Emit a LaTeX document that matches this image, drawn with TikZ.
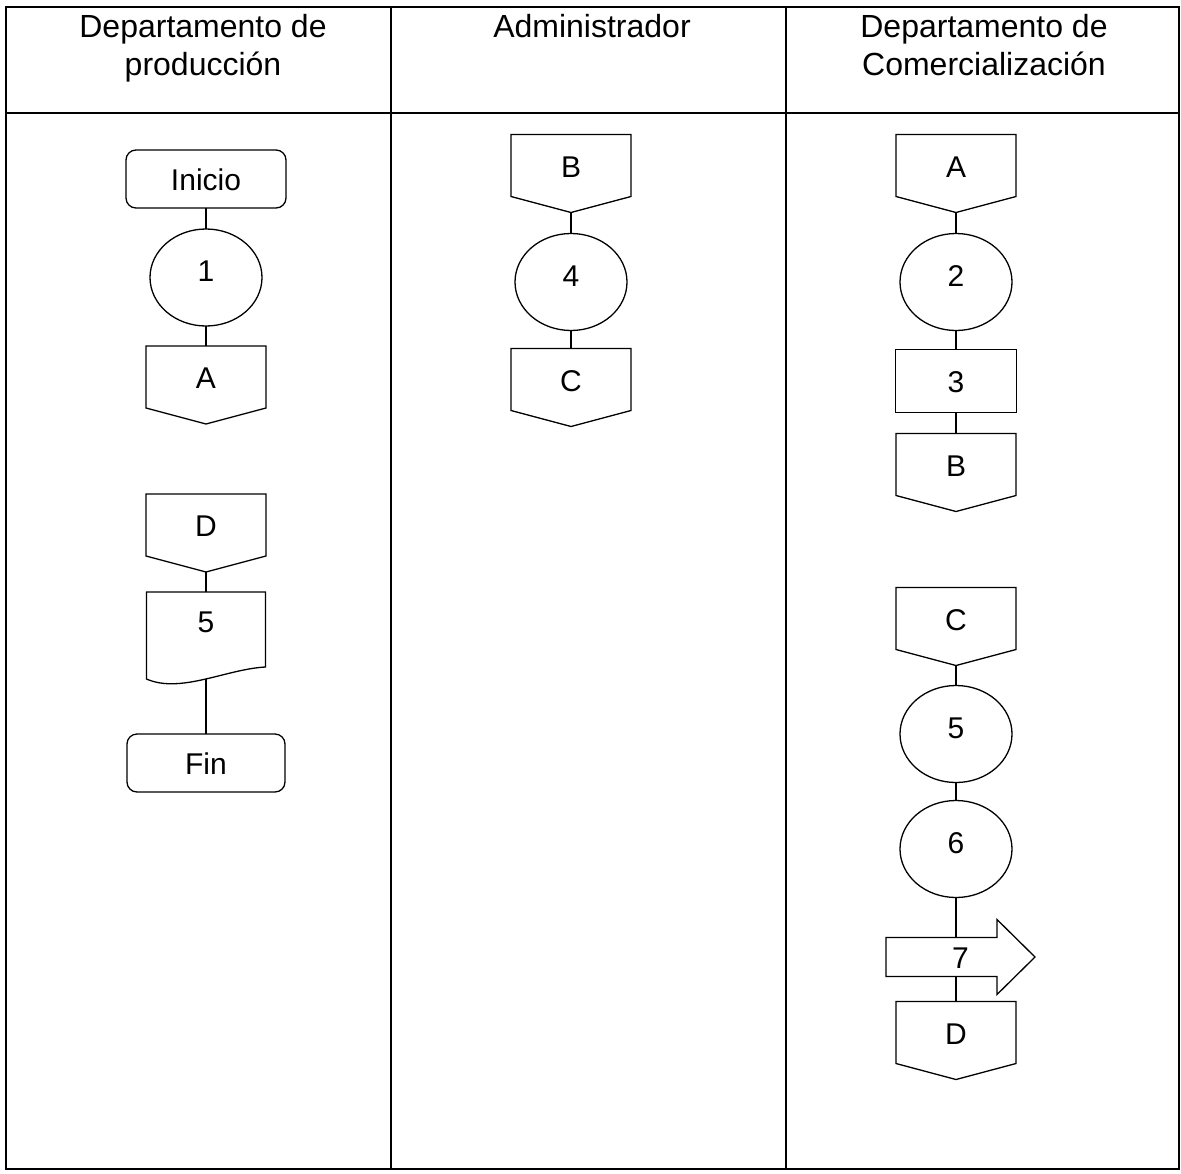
\documentclass[tikz,border=0pt]{standalone}
\usepackage{fontspec}
\setmainfont{Liberation Sans}
\usetikzlibrary{positioning,calc,shapes.geometric}

\tikzset{
  flowtext/.style={inner sep=0pt, outer sep=0pt, font=\fontsize{30}{36}\selectfont, text height=22pt, text depth=0pt},
  terminal/.style={flowtext, draw, line width=1.3pt, rounded corners=10pt, minimum width=160pt, minimum height=58pt},
  activity/.style={flowtext, draw, line width=1.3pt, ellipse, minimum width=112pt, minimum height=97pt, text depth=14pt},
  taskbox/.style={flowtext, draw, line width=1.3pt, minimum width=121pt, minimum height=63pt},
  offpage/.style={flowtext, minimum width=120pt, minimum height=78pt, text depth=15pt,
    append after command={\pgfextra{\draw[line width=1.3pt]
      (\tikzlastnode.north west) -- (\tikzlastnode.north east)
      -- ([yshift=16pt]\tikzlastnode.south east) -- (\tikzlastnode.south)
      -- ([yshift=16pt]\tikzlastnode.south west) -- cycle;}}},
  docpage/.style={flowtext, minimum width=119pt, minimum height=87pt, text depth=29pt,
    append after command={\pgfextra{\draw[line width=1.3pt]
      (\tikzlastnode.north west) -- (\tikzlastnode.north east)
      -- ([yshift=12pt]\tikzlastnode.south east)
      .. controls ($(\tikzlastnode.south east)+(-39,-10)$) and ($(\tikzlastnode.south west)+(34,15)$) .. (\tikzlastnode.south west)
      -- cycle;}}},
  flowarrow/.style={flowtext, minimum width=149pt, minimum height=75pt,
    append after command={\pgfextra{\draw[line width=1.3pt]
      ([yshift=19.5pt]\tikzlastnode.west) -- ([xshift=-38pt,yshift=19.5pt]\tikzlastnode.east)
      -- ([xshift=-38pt]\tikzlastnode.north east) -- (\tikzlastnode.east)
      -- ([xshift=-38pt]\tikzlastnode.south east) -- ([xshift=-38pt,yshift=-19.5pt]\tikzlastnode.east)
      -- ([yshift=-19.5pt]\tikzlastnode.west) -- cycle;}}},
  header/.style={inner sep=0pt, anchor=north, align=center, font=\fontsize{32}{38}\selectfont},
  table_line/.style={line width=1.5pt},
  edge_line/.style={line width=1.3pt}
}

\begin{document}
\begin{tikzpicture}[x=1pt, y=-1pt]
      \useasboundingbox (0,0) rectangle (1181,1173);

      % table
      \draw[table_line] (6,7) rectangle (1179,1169);
      \draw[table_line] (6,113) -- (1179,113);
      \draw[table_line] (391,7) -- (391,1169);
      \draw[table_line] (786,7) -- (786,1169);

      \node[header] (hdr_produccion) at (203,14) {Departamento de\\producción};
      \node[header] (hdr_admin) at (592,14) {Administrador};
      \node[header] (hdr_comercial) at (984,14) {Departamento de\\Comercialización};

      % nodes

      %produccion
      \node[terminal] (inicio) at (206,179) {Inicio};
      \node[activity, below=21pt of inicio] (op_1) {1};
      \node[offpage, below=20pt of op_1] (conn_a_out) {A};
      \node[offpage, below=70pt of conn_a_out] (conn_d_in) {D};
      \node[docpage, below=20pt of conn_d_in] (doc_5) {5};
      \node[terminal, below=55pt of doc_5, minimum width=158pt] (fin) {Fin};

      %administrador
      \node[offpage] (conn_b_in) at (571,173.5) {B};
      \node[activity, below=21pt of conn_b_in] (op_4) {4};
      \node[offpage, below=18pt of op_4] (conn_c_out) {C};

      %comercializacion
      \node[offpage] (conn_a_in) at (956,173.5) {A};
      \node[activity, below=21pt of conn_a_in] (op_2) {2};
      \node[taskbox, below=19pt of op_2] (op_3) {3};
      \node[offpage, below=21pt of op_3] (conn_b_out) {B};
      \node[offpage, below=76pt of conn_b_out] (conn_c_in) {C};
      \node[activity, below=20pt of conn_c_in] (op_5) {5};
      \node[activity, below=18pt of op_5] (op_6) {6};
      \node[flowarrow, below=22pt of op_6, xshift=4.5pt] (move_7) {7};
      \node[offpage, below=7pt of move_7, xshift=-4.5pt] (conn_d_out) {D};

      \coordinate (move_7_top) at ([yshift=-18pt] move_7.north);
      \coordinate (move_7_bottom) at ([yshift=18pt] move_7.south);

      % edges
      \draw[edge_line] (inicio) -- (op_1);
      \draw[edge_line] (op_1) -- (conn_a_out);
      \draw[edge_line] (conn_d_in) -- (doc_5);
      \draw[edge_line] (doc_5) -- (fin);

      \draw[edge_line] (conn_b_in) -- (op_4);
      \draw[edge_line] (op_4) -- (conn_c_out);

      \draw[edge_line] (conn_a_in) -- (op_2);
      \draw[edge_line] (op_2) -- (op_3);
      \draw[edge_line] (op_3) -- (conn_b_out);
      \draw[edge_line] (conn_c_in) -- (op_5);
      \draw[edge_line] (op_5) -- (op_6);
      \draw[edge_line] (op_6) -- (op_6 |- move_7_top);
      \draw[edge_line] (conn_d_out |- move_7_bottom) -- (conn_d_out);

\end{tikzpicture}
\end{document}
